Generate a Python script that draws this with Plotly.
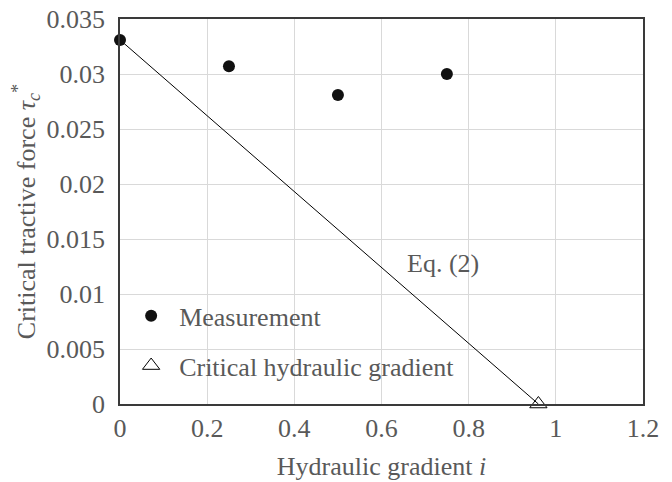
import plotly.graph_objects as go

# Data
meas_x = [0.0, 0.25, 0.5, 0.75]
meas_y = [0.0331, 0.0307, 0.0281, 0.0300]
crit_x = [0.96]
crit_y = [0.0]
eq_x = [0.0, 0.96]
eq_y = [0.0331, 0.0]
x_ticks = [0, 0.2, 0.4, 0.6, 0.8, 1.0, 1.2]
x_tick_labels = ["0", "0.2", "0.4", "0.6", "0.8", "1", "1.2"]
y_ticks = [0, 0.005, 0.01, 0.015, 0.02, 0.025, 0.03, 0.035]
y_tick_labels = ["0", "0.005", "0.01", "0.015", "0.02", "0.025", "0.03", "0.035"]

FONT = "Liberation Serif"
GRAY = "#595959"
FS = 26

fig = go.Figure()
fig.add_trace(go.Scatter(x=eq_x, y=eq_y, mode="lines", line=dict(color="black", width=1),
                         showlegend=False, hoverinfo="skip", cliponaxis=False))
fig.add_trace(go.Scatter(x=meas_x, y=meas_y, mode="markers", name="Measurement",
                         marker=dict(symbol="circle", size=12, color="#111111"),
                         legendgroup="a", cliponaxis=False))
fig.add_trace(go.Scatter(x=crit_x, y=crit_y, mode="markers", name="Critical hydraulic gradient",
                         marker=dict(symbol="triangle-up-open", size=15, color="black",
                                     line=dict(width=1, color="black")),
                         legendgroup="b", cliponaxis=False))

fig.add_annotation(x=0.74, y=0.0128, text="Eq. (2)", showarrow=False,
                   font=dict(family=FONT, size=FS, color=GRAY))

fig.update_layout(
    template="none",
    width=672, height=482,
    margin=dict(l=112, r=37, t=11, b=86, autoexpand=False),
    paper_bgcolor="white", plot_bgcolor="white",
    font=dict(family=FONT, size=FS, color=GRAY),
    legend=dict(x=0.006, xanchor="left", y=0.29, yanchor="top",
                bgcolor="rgba(0,0,0,0)", font=dict(family=FONT, size=FS, color=GRAY),
                itemwidth=46, tracegroupgap=13),
    xaxis=dict(range=[0, 1.2], tickvals=x_ticks, ticktext=x_tick_labels,
               showgrid=True, gridcolor="#d9d9d9", gridwidth=1,
               showline=True, linecolor="#3a3a3a", linewidth=1.5, mirror=True,
               ticks="", zeroline=False, automargin=False, ticklabeloverflow="allow",
               title=dict(text="Hydraulic gradient <i>i</i>", standoff=15,
                          font=dict(family=FONT, size=FS, color=GRAY))),
    yaxis=dict(range=[0, 0.035], tickvals=y_ticks, ticktext=y_tick_labels,
               showgrid=True, gridcolor="#d9d9d9", gridwidth=1,
               showline=True, linecolor="#3a3a3a", linewidth=1.5, mirror=True,
               ticks="", zeroline=False, ticklabelstandoff=8, automargin=False,
               ticklabeloverflow="allow",
               title=dict(text="Critical tractive force <i>τ</i><sub><i>c</i></sub><sup>*</sup>",
                          standoff=10, font=dict(family=FONT, size=FS, color=GRAY))),
)

fig.write_html("out.html")
